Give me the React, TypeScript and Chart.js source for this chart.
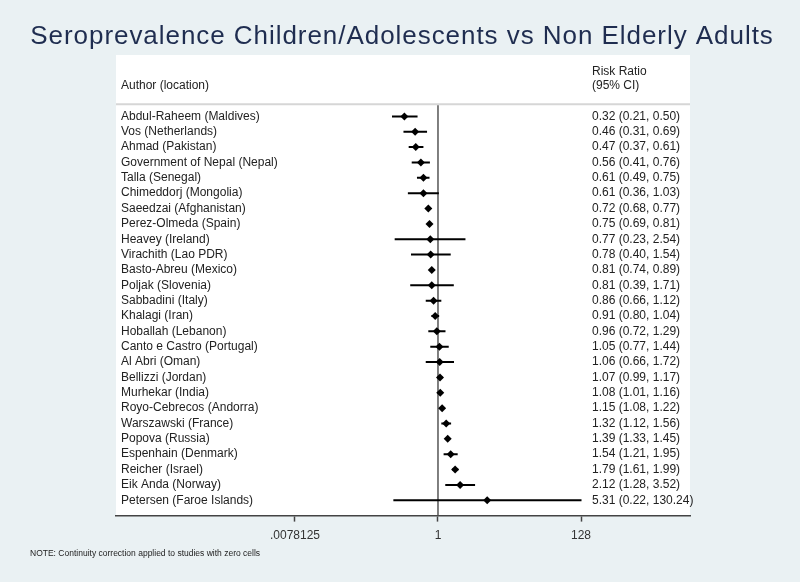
import React, { useEffect, useRef } from "react";
import { Chart, registerables } from "chart.js";

Chart.register(...registerables);

const TITLE = "Seroprevalence Children/Adolescents vs Non Elderly Adults";
const NOTE = "NOTE: Continuity correction applied to studies with zero cells";

const authors = [
  "Abdul-Raheem (Maldives)",
  "Vos (Netherlands)",
  "Ahmad (Pakistan)",
  "Government of Nepal (Nepal)",
  "Talla (Senegal)",
  "Chimeddorj (Mongolia)",
  "Saeedzai (Afghanistan)",
  "Perez-Olmeda (Spain)",
  "Heavey (Ireland)",
  "Virachith (Lao PDR)",
  "Basto-Abreu (Mexico)",
  "Poljak (Slovenia)",
  "Sabbadini (Italy)",
  "Khalagi (Iran)",
  "Hoballah (Lebanon)",
  "Canto e Castro (Portugal)",
  "Al Abri (Oman)",
  "Bellizzi (Jordan)",
  "Murhekar (India)",
  "Royo-Cebrecos (Andorra)",
  "Warszawski (France)",
  "Popova (Russia)",
  "Espenhain (Denmark)",
  "Reicher (Israel)",
  "Eik Anda (Norway)",
  "Petersen (Faroe Islands)",
];

const riskRatio = [0.32, 0.46, 0.47, 0.56, 0.61, 0.61, 0.72, 0.75, 0.77, 0.78, 0.81, 0.81, 0.86, 0.91, 0.96, 1.05, 1.06, 1.07, 1.08, 1.15, 1.32, 1.39, 1.54, 1.79, 2.12, 5.31];
const ciLow = [0.21, 0.31, 0.37, 0.41, 0.49, 0.36, 0.68, 0.69, 0.23, 0.40, 0.74, 0.39, 0.66, 0.80, 0.72, 0.77, 0.66, 0.99, 1.01, 1.08, 1.12, 1.33, 1.21, 1.61, 1.28, 0.22];
const ciHigh = [0.50, 0.69, 0.61, 0.76, 0.75, 1.03, 0.77, 0.81, 2.54, 1.54, 0.89, 1.71, 1.12, 1.04, 1.29, 1.44, 1.72, 1.17, 1.16, 1.22, 1.56, 1.45, 1.95, 1.99, 3.52, 130.24];

const tickValues = [0.0078125, 1, 128];
const tickLabels = [".0078125", "1", "128"];

const FONT = "'Liberation Sans', Arial, sans-serif";

export default function App() {
  const ref = useRef<HTMLCanvasElement | null>(null);

  useEffect(() => {
    const canvas = ref.current;
    if (!canvas) return;

    const pointData = riskRatio.map((v, i) => ({ x: v, y: i }));
    const ciData: { x: number; y: number }[] = [];
    ciLow.forEach((lo, i) => {
      ciData.push({ x: lo, y: i });
      ciData.push({ x: ciHigh[i], y: i });
      ciData.push({ x: NaN, y: NaN });
    });

    const forestPlugin = {
      id: "forest",
      beforeDraw(chart: any) {
        const { ctx, chartArea } = chart;
        ctx.save();
        ctx.fillStyle = "#eaf1f3";
        ctx.fillRect(0, 0, chart.width, chart.height);
        ctx.fillStyle = "#ffffff";
        ctx.fillRect(chartArea.left, chartArea.top, chartArea.right - chartArea.left, chartArea.bottom - chartArea.top);
        ctx.restore();
      },
      beforeDatasetsDraw(chart: any) {
        const { ctx, chartArea, scales } = chart;
        const yLine = scales.y.getPixelForValue(-0.79);
        const x1 = scales.x.getPixelForValue(1);
        ctx.save();
        ctx.strokeStyle = "#d6d6d6";
        ctx.lineWidth = 2;
        ctx.beginPath();
        ctx.moveTo(chartArea.left, yLine);
        ctx.lineTo(chartArea.right, yLine);
        ctx.stroke();
        ctx.strokeStyle = "#555555";
        ctx.lineWidth = 1.5;
        ctx.beginPath();
        ctx.moveTo(x1, yLine + 1);
        ctx.lineTo(x1, chartArea.bottom);
        ctx.stroke();
        ctx.restore();
      },
      afterDraw(chart: any) {
        const { ctx, chartArea, scales } = chart;
        const y = scales.y;
        const leftX = chartArea.left + 5;
        const rrX = scales.x.getPixelForValue(128) + 11;
        ctx.save();
        // title
        ctx.fillStyle = "#1f2d50";
        ctx.font = `26px ${FONT}`;
        (ctx as any).letterSpacing = "0.95px";
        ctx.textAlign = "center";
        ctx.textBaseline = "middle";
        ctx.fillText(TITLE, 402, 37);
        (ctx as any).letterSpacing = "0px";

        ctx.fillStyle = "#222222";
        ctx.font = `12px ${FONT}`;
        ctx.textBaseline = "middle";
        ctx.textAlign = "left";
        ctx.fillText("Author (location)", leftX, y.getPixelForValue(-2.0));
        ctx.fillText("Risk Ratio", rrX, y.getPixelForValue(-2.92));
        ctx.fillText("(95% CI)", rrX, y.getPixelForValue(-2.02));
        authors.forEach((a, i) => {
          const py = y.getPixelForValue(i);
          ctx.fillText(a, leftX, py);
          ctx.fillText(
            `${riskRatio[i].toFixed(2)} (${ciLow[i].toFixed(2)}, ${ciHigh[i].toFixed(2)})`,
            rrX,
            py
          );
        });
        ctx.font = `8.5px ${FONT}`;
        ctx.fillStyle = "#222222";
        ctx.fillText(NOTE, 30, 554);
        ctx.restore();
      },
    };

    const chart = new Chart(canvas, {
      type: "scatter",
      data: {
        datasets: [
          {
            label: "CI",
            data: ciData,
            showLine: true,
            spanGaps: false,
            borderColor: "#000000",
            borderWidth: 2,
            pointRadius: 0,
            pointHoverRadius: 0,
          },
          {
            label: "Risk Ratio",
            data: pointData,
            pointStyle: "rectRot",
            pointRadius: 4,
            backgroundColor: "#000000",
            borderColor: "#000000",
            borderWidth: 0,
          },
        ],
      },
      options: {
        responsive: false,
        animation: false,
        layout: { padding: { left: 116, right: 110, top: 55, bottom: 32 } },
        plugins: {
          legend: { display: false },
          tooltip: { enabled: false },
          title: { display: false },
        },
        scales: {
          x: {
            type: "logarithmic",
            bounds: "data",
            min: Math.pow(2, -15.76),
            max: Math.pow(2, 12.335),
            afterBuildTicks(scale: any) {
              scale.ticks = tickValues.map((v) => ({ value: v }));
            },
            grid: {
              display: true,
              drawOnChartArea: false,
              drawTicks: true,
              tickLength: 6,
              tickWidth: 1.5,
              tickColor: "#444444",
            },
            border: { display: true, color: "#444444", width: 1.5 },
            ticks: {
              autoSkip: false,
              maxRotation: 0,
              padding: 7,
              color: "#333333",
              font: { family: FONT, size: 12 },
              callback: (value: any) => {
                const idx = tickValues.findIndex((t) => Math.abs(t - Number(value)) < 1e-9);
                return idx >= 0 ? tickLabels[idx] : "";
              },
            },
          },
          y: {
            type: "linear",
            display: false,
            reverse: true,
            min: -4.0,
            max: 26.0,
          },
        },
      },
      plugins: [forestPlugin],
    });

    return () => chart.destroy();
  }, []);

  return (
    <div style={{ position: "fixed", left: 0, top: 0, width: 800, height: 582 }}>
      <canvas ref={ref} width={800} height={582} style={{ display: "block" }} />
    </div>
  );
}
